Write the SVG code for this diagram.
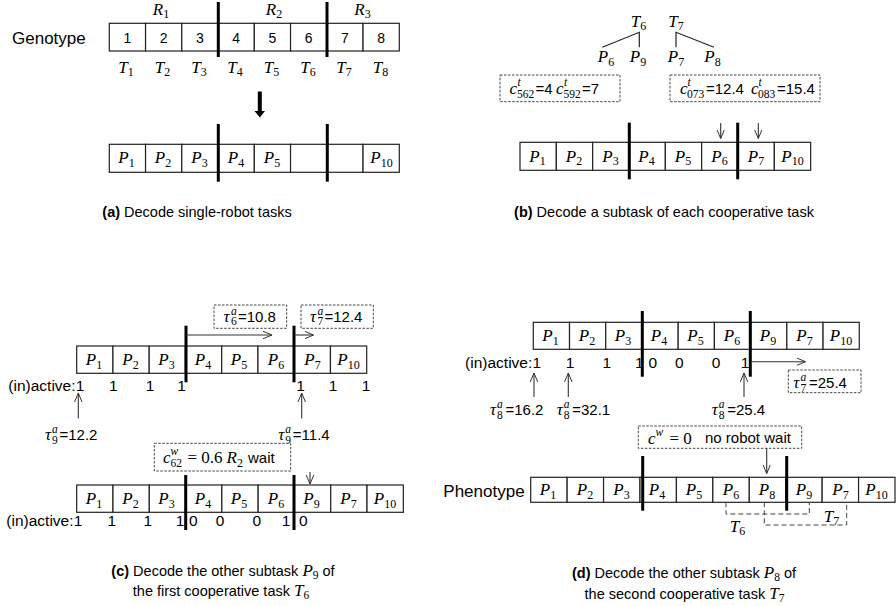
<svg xmlns="http://www.w3.org/2000/svg" width="896" height="606" viewBox="0 0 896 606">
<defs>
<style>
.cell{fill:#fff;stroke:#222;stroke-width:1.2}
.bar{stroke:#000;stroke-width:3}
.dash{fill:#fff;stroke:#444;stroke-width:1;stroke-dasharray:2.5 1.5}
.brk{fill:none;stroke:#444;stroke-width:1;stroke-dasharray:5 3}
.ln{stroke:#222;stroke-width:1.2;fill:none}
.ar{stroke:#333;stroke-width:1.1;fill:none;marker-end:url(#ah)}
.sf{font-family:"Liberation Sans",Arial,sans-serif;fill:#000}
.m{font-family:"Liberation Serif","Times New Roman",serif;font-style:italic;font-size:17px;fill:#000}
.mu{font-family:"Liberation Serif","Times New Roman",serif;font-size:17px;fill:#000}
.s{font-style:normal;font-size:12px}
.ss{font-family:"Liberation Serif","Times New Roman",serif;font-size:11.5px;fill:#000}
.si{font-family:"Liberation Serif","Times New Roman",serif;font-style:italic;font-size:11.5px;fill:#000}
.num{font-size:14px;text-anchor:middle}
.act{font-size:15.5px}
.val{font-size:15px}
.cap{font-size:14.5px;text-anchor:middle}
.c{text-anchor:middle}
</style>
<marker id="ah" viewBox="0 0 10 10" refX="10" refY="5" markerWidth="9" markerHeight="9" markerUnits="userSpaceOnUse" orient="auto">
<path d="M0,0.8 L10,5 L0,9.2" fill="none" stroke="#333" stroke-width="1.1"/>
</marker>
</defs>
<rect width="896" height="606" fill="#fff"/>

<!-- Panel (a) -->
<g id="genotype">
<text class="sf" x="12" y="44" font-size="17">Genotype</text>
<rect class="cell" x="109.3" y="23.3" width="36.25" height="27.7"/>
<rect class="cell" x="145.55" y="23.3" width="36.25" height="27.7"/>
<rect class="cell" x="181.8" y="23.3" width="36.25" height="27.7"/>
<rect class="cell" x="218.05" y="23.3" width="36.25" height="27.7"/>
<rect class="cell" x="254.3" y="23.3" width="36.25" height="27.7"/>
<rect class="cell" x="290.55" y="23.3" width="36.25" height="27.7"/>
<rect class="cell" x="326.8" y="23.3" width="36.25" height="27.7"/>
<rect class="cell" x="363.05" y="23.3" width="36.25" height="27.7"/>
<text class="sf num" x="127.4" y="42.5">1</text>
<text class="sf num" x="163.7" y="42.5">2</text>
<text class="sf num" x="199.9" y="42.5">3</text>
<text class="sf num" x="236.2" y="42.5">4</text>
<text class="sf num" x="272.4" y="42.5">5</text>
<text class="sf num" x="308.7" y="42.5">6</text>
<text class="sf num" x="344.9" y="42.5">7</text>
<text class="sf num" x="381.2" y="42.5">8</text>
<line class="bar" x1="218.3" y1="2" x2="218.3" y2="57"/>
<line class="bar" x1="327" y1="2" x2="327" y2="57"/>
<text class="m c" x="161" y="15">R<tspan class="s" dy="3">1</tspan></text>
<text class="m c" x="274" y="15">R<tspan class="s" dy="3">2</tspan></text>
<text class="m c" x="362.5" y="15">R<tspan class="s" dy="3">3</tspan></text>
<text class="m c" x="126" y="73">T<tspan class="s" dy="3">1</tspan></text>
<text class="m c" x="162.5" y="73">T<tspan class="s" dy="3">2</tspan></text>
<text class="m c" x="199" y="73">T<tspan class="s" dy="3">3</tspan></text>
<text class="m c" x="235" y="73">T<tspan class="s" dy="3">4</tspan></text>
<text class="m c" x="271.5" y="73">T<tspan class="s" dy="3">5</tspan></text>
<text class="m c" x="308" y="73">T<tspan class="s" dy="3">6</tspan></text>
<text class="m c" x="344" y="73">T<tspan class="s" dy="3">7</tspan></text>
<text class="m c" x="380.5" y="73">T<tspan class="s" dy="3">8</tspan></text>
</g>
<g id="arrow-a">
<polygon points="257.8,91.5 261.8,91.5 261.8,111 265,111 259.8,117.5 254.5,111 257.8,111" fill="#000"/>
</g>
<g id="row-a">
<rect class="cell" x="109.3" y="144.3" width="36.25" height="28"/>
<rect class="cell" x="145.55" y="144.3" width="36.25" height="28"/>
<rect class="cell" x="181.8" y="144.3" width="36.25" height="28"/>
<rect class="cell" x="218.05" y="144.3" width="36.25" height="28"/>
<rect class="cell" x="254.3" y="144.3" width="36.25" height="28"/>
<rect class="cell" x="290.55" y="144.3" width="36.25" height="28"/>
<rect class="cell" x="326.8" y="144.3" width="36.25" height="28"/>
<rect class="cell" x="363.05" y="144.3" width="36.25" height="28"/>
<text class="m c" x="126.5" y="163.3">P<tspan class="s" dy="3.5">1</tspan></text>
<text class="m c" x="163" y="163.3">P<tspan class="s" dy="3.5">2</tspan></text>
<text class="m c" x="199.5" y="163.3">P<tspan class="s" dy="3.5">3</tspan></text>
<text class="m c" x="236" y="163.3">P<tspan class="s" dy="3.5">4</tspan></text>
<text class="m c" x="272" y="163.3">P<tspan class="s" dy="3.5">5</tspan></text>
<text class="m c" x="381.5" y="163.3">P<tspan class="s" dy="3.5">10</tspan></text>
<line class="bar" x1="218.3" y1="124" x2="218.3" y2="181.7"/>
<line class="bar" x1="327.3" y1="124" x2="327.3" y2="181.7"/>
</g>
<text class="sf cap" x="197" y="217" font-size="15"><tspan font-weight="bold">(a)</tspan> Decode single-robot tasks</text>

<!-- Panel (b) -->
<g id="tree-b">
<text class="m c" x="638.5" y="27">T<tspan class="s" dy="3">6</tspan></text>
<text class="m c" x="676" y="27">T<tspan class="s" dy="3">7</tspan></text>
<path class="ln" d="M602.3,47.3 L639.3,32.3 L639.3,47.3"/>
<path class="ln" d="M676,47.3 L676,32.3 L714,47.3"/>
<text class="m c" x="606" y="62">P<tspan class="s" dy="3.5">6</tspan></text>
<text class="m c" x="638" y="62">P<tspan class="s" dy="3.5">9</tspan></text>
<text class="m c" x="676" y="62">P<tspan class="s" dy="3.5">7</tspan></text>
<text class="m c" x="712.5" y="62">P<tspan class="s" dy="3.5">8</tspan></text>
</g>
<g id="cost-b1">
<rect class="dash" x="500" y="75" width="120" height="26.7"/>
<text class="m" x="509.5" y="94">c</text>
<text class="si" x="517.5" y="86">t</text>
<text class="ss" x="517" y="98">562</text>
<text class="sf val" x="535.5" y="94">=4</text>
<text class="m" x="556" y="94">c</text>
<text class="si" x="564" y="86">t</text>
<text class="ss" x="563.5" y="98">592</text>
<text class="sf val" x="582" y="94">=7</text>
</g>
<g id="cost-b2">
<rect class="dash" x="670" y="75" width="150" height="26.7"/>
<text class="m" x="680" y="94">c</text>
<text class="si" x="687.5" y="86">t</text>
<text class="ss" x="687" y="98">073</text>
<text class="sf val" x="706" y="94">=12.4</text>
<text class="m" x="751" y="94">c</text>
<text class="si" x="758.5" y="86">t</text>
<text class="ss" x="758" y="98">083</text>
<text class="sf val" x="777" y="94">=15.4</text>
</g>
<g id="row-b">
<rect class="cell" x="520" y="142.3" width="36.33" height="28"/>
<rect class="cell" x="556.33" y="142.3" width="36.33" height="28"/>
<rect class="cell" x="592.66" y="142.3" width="36.33" height="28"/>
<rect class="cell" x="629" y="142.3" width="36.33" height="28"/>
<rect class="cell" x="665.33" y="142.3" width="36.33" height="28"/>
<rect class="cell" x="701.66" y="142.3" width="36.33" height="28"/>
<rect class="cell" x="738" y="142.3" width="36.33" height="28"/>
<rect class="cell" x="774.33" y="142.3" width="36.33" height="28"/>
<text class="m c" x="537.5" y="161.5">P<tspan class="s" dy="3.5">1</tspan></text>
<text class="m c" x="574" y="161.5">P<tspan class="s" dy="3.5">2</tspan></text>
<text class="m c" x="610.5" y="161.5">P<tspan class="s" dy="3.5">3</tspan></text>
<text class="m c" x="646.5" y="161.5">P<tspan class="s" dy="3.5">4</tspan></text>
<text class="m c" x="683" y="161.5">P<tspan class="s" dy="3.5">5</tspan></text>
<text class="m c" x="719.5" y="161.5">P<tspan class="s" dy="3.5">6</tspan></text>
<text class="m c" x="756" y="161.5">P<tspan class="s" dy="3.5">7</tspan></text>
<text class="m c" x="792.5" y="161.5">P<tspan class="s" dy="3.5">10</tspan></text>
<line class="bar" x1="629.3" y1="122.7" x2="629.3" y2="179.3"/>
<line class="bar" x1="737.7" y1="122.7" x2="737.7" y2="179.3"/>
</g>
<g id="connectors-b">
<line class="ar" x1="720.7" y1="123" x2="720.7" y2="138.5"/>
<line class="ar" x1="758.3" y1="123" x2="758.3" y2="138.5"/>
</g>
<text class="sf cap" x="664" y="217"><tspan font-weight="bold">(b)</tspan> Decode a subtask of each cooperative task</text>

<!-- Panel (c) -->
<g id="tau-c1">
<rect class="dash" x="214" y="305" width="72.7" height="23.3"/>
<text class="m" x="223.5" y="321.7" font-size="16">τ</text>
<text class="si" x="231" y="314.5">a</text>
<text class="ss" x="231" y="325">6</text>
<text class="sf val" x="238" y="321.7">=10.8</text>
</g>
<g id="tau-c2">
<rect class="dash" x="301" y="305" width="72.3" height="23.3"/>
<text class="m" x="310" y="321.7" font-size="16">τ</text>
<text class="si" x="317.5" y="314.5">a</text>
<text class="ss" x="317.5" y="325">7</text>
<text class="sf val" x="324.5" y="321.7">=12.4</text>
</g>
<g id="row-c1">
<rect class="cell" x="76.7" y="346" width="36.25" height="27.3"/>
<rect class="cell" x="112.95" y="346" width="36.25" height="27.3"/>
<rect class="cell" x="149.2" y="346" width="36.25" height="27.3"/>
<rect class="cell" x="185.45" y="346" width="36.25" height="27.3"/>
<rect class="cell" x="221.7" y="346" width="36.25" height="27.3"/>
<rect class="cell" x="257.95" y="346" width="36.25" height="27.3"/>
<rect class="cell" x="294.2" y="346" width="36.25" height="27.3"/>
<rect class="cell" x="330.45" y="346" width="36.25" height="27.3"/>
<text class="m c" x="94" y="365">P<tspan class="s" dy="3.5">1</tspan></text>
<text class="m c" x="130.5" y="365">P<tspan class="s" dy="3.5">2</tspan></text>
<text class="m c" x="166.5" y="365">P<tspan class="s" dy="3.5">3</tspan></text>
<text class="m c" x="203" y="365">P<tspan class="s" dy="3.5">4</tspan></text>
<text class="m c" x="239" y="365">P<tspan class="s" dy="3.5">5</tspan></text>
<text class="m c" x="276" y="365">P<tspan class="s" dy="3.5">6</tspan></text>
<text class="m c" x="312.5" y="365">P<tspan class="s" dy="3.5">7</tspan></text>
<text class="m c" x="348.5" y="365">P<tspan class="s" dy="3.5">10</tspan></text>
<line class="bar" x1="186" y1="325.7" x2="186" y2="382.3"/>
<line class="bar" x1="294" y1="325.7" x2="294" y2="382.3"/>
<text class="sf act" x="75.5" y="391.3" text-anchor="end">(in)active:</text>
<text class="sf act c" x="80" y="391.3">1</text>
<text class="sf act c" x="113.3" y="391.3">1</text>
<text class="sf act c" x="150" y="391.3">1</text>
<text class="sf act c" x="181.5" y="391.3">1</text>
<text class="sf act c" x="300.5" y="391.3">1</text>
<text class="sf act c" x="333" y="391.3">1</text>
<text class="sf act c" x="366" y="391.3">1</text>
</g>
<g id="tau-c3">
<text class="m" x="45" y="440" font-size="16">τ</text>
<text class="si" x="52" y="432.5">a</text>
<text class="ss" x="52" y="443.5">9</text>
<text class="sf val" x="59.5" y="440">=12.2</text>
</g>
<g id="tau-c4">
<text class="m" x="278.3" y="440" font-size="16">τ</text>
<text class="si" x="285.3" y="432.5">a</text>
<text class="ss" x="285.3" y="443.5">9</text>
<text class="sf val" x="292.8" y="440">=11.4</text>
</g>
<g id="wait-c">
<rect class="dash" x="154.3" y="443.3" width="136.4" height="27.7"/>
<text class="m" x="163" y="463">c</text>
<text class="si" x="170.5" y="455">w</text>
<text class="ss" x="170.5" y="467">62</text>
<text class="mu" x="187.5" y="463">= 0.6</text>
<text class="m" x="226.5" y="463">R<tspan class="s" dy="3.5">2</tspan></text>
<text class="sf val" x="248" y="463">wait</text>
</g>
<g id="row-c2">
<rect class="cell" x="76.7" y="485" width="36.29" height="27.3"/>
<rect class="cell" x="112.99" y="485" width="36.29" height="27.3"/>
<rect class="cell" x="149.28" y="485" width="36.29" height="27.3"/>
<rect class="cell" x="185.57" y="485" width="36.29" height="27.3"/>
<rect class="cell" x="221.86" y="485" width="36.29" height="27.3"/>
<rect class="cell" x="258.15" y="485" width="36.29" height="27.3"/>
<rect class="cell" x="294.44" y="485" width="36.29" height="27.3"/>
<rect class="cell" x="330.73" y="485" width="36.29" height="27.3"/>
<rect class="cell" x="367.02" y="485" width="36.29" height="27.3"/>
<text class="m c" x="94" y="504">P<tspan class="s" dy="3.5">1</tspan></text>
<text class="m c" x="130.5" y="504">P<tspan class="s" dy="3.5">2</tspan></text>
<text class="m c" x="166.5" y="504">P<tspan class="s" dy="3.5">3</tspan></text>
<text class="m c" x="203" y="504">P<tspan class="s" dy="3.5">4</tspan></text>
<text class="m c" x="239" y="504">P<tspan class="s" dy="3.5">5</tspan></text>
<text class="m c" x="276" y="504">P<tspan class="s" dy="3.5">6</tspan></text>
<text class="m c" x="311.5" y="504">P<tspan class="s" dy="3.5">9</tspan></text>
<text class="m c" x="348.5" y="504">P<tspan class="s" dy="3.5">7</tspan></text>
<text class="m c" x="385" y="504">P<tspan class="s" dy="3.5">10</tspan></text>
<line class="bar" x1="185.7" y1="475" x2="185.7" y2="530"/>
<line class="bar" x1="294" y1="475" x2="294" y2="530"/>
<text class="sf act" x="73.5" y="526" text-anchor="end">(in)active:</text>
<text class="sf act c" x="78" y="526">1</text>
<text class="sf act c" x="111.7" y="526">1</text>
<text class="sf act c" x="147.7" y="526">1</text>
<text class="sf act c" x="180" y="526">1</text>
<text class="sf act c" x="193.3" y="526">0</text>
<text class="sf act c" x="220" y="526">0</text>
<text class="sf act c" x="256.7" y="526">0</text>
<text class="sf act c" x="286" y="526">1</text>
<text class="sf act c" x="303.3" y="526">0</text>
</g>
<g id="connectors-c">
<line class="ar" x1="186" y1="335" x2="272" y2="335"/>
<line class="ar" x1="294" y1="335" x2="313.5" y2="335"/>
<line class="ar" x1="78.3" y1="418.5" x2="78.3" y2="393"/>
<line class="ar" x1="301.7" y1="418.5" x2="301.7" y2="393"/>
<line class="ar" x1="310" y1="472" x2="310" y2="484"/>
</g>
<text class="sf cap" x="223" y="576"><tspan font-weight="bold">(c)</tspan> Decode the other subtask <tspan class="m" font-size="16">P</tspan><tspan font-family="Liberation Serif" font-size="11.5" dy="3">9</tspan><tspan dy="-3"> of</tspan></text>
<text class="sf cap" x="221" y="596">the first cooperative task <tspan class="m" font-size="16">T</tspan><tspan font-family="Liberation Serif" font-size="11.5" dy="3">6</tspan></text>

<!-- Panel (d) -->
<g id="row-d1">
<rect class="cell" x="533.3" y="322.3" width="36.22" height="27"/>
<rect class="cell" x="569.52" y="322.3" width="36.22" height="27"/>
<rect class="cell" x="605.74" y="322.3" width="36.22" height="27"/>
<rect class="cell" x="641.96" y="322.3" width="36.22" height="27"/>
<rect class="cell" x="678.18" y="322.3" width="36.22" height="27"/>
<rect class="cell" x="714.4" y="322.3" width="36.22" height="27"/>
<rect class="cell" x="750.62" y="322.3" width="36.22" height="27"/>
<rect class="cell" x="786.84" y="322.3" width="36.22" height="27"/>
<rect class="cell" x="823.06" y="322.3" width="36.22" height="27"/>
<text class="m c" x="550.5" y="341">P<tspan class="s" dy="3.5">1</tspan></text>
<text class="m c" x="587" y="341">P<tspan class="s" dy="3.5">2</tspan></text>
<text class="m c" x="623" y="341">P<tspan class="s" dy="3.5">3</tspan></text>
<text class="m c" x="659" y="341">P<tspan class="s" dy="3.5">4</tspan></text>
<text class="m c" x="695.5" y="341">P<tspan class="s" dy="3.5">5</tspan></text>
<text class="m c" x="732" y="341">P<tspan class="s" dy="3.5">6</tspan></text>
<text class="m c" x="768" y="341">P<tspan class="s" dy="3.5">9</tspan></text>
<text class="m c" x="804.5" y="341">P<tspan class="s" dy="3.5">7</tspan></text>
<text class="m c" x="841" y="341">P<tspan class="s" dy="3.5">10</tspan></text>
<line class="bar" x1="642.3" y1="311" x2="642.3" y2="376.7"/>
<line class="bar" x1="750.3" y1="311" x2="750.3" y2="376.7"/>
<text class="sf act" x="532.3" y="368" text-anchor="end">(in)active:</text>
<text class="sf act c" x="536.7" y="368">1</text>
<text class="sf act c" x="570" y="368">1</text>
<text class="sf act c" x="606.7" y="368">1</text>
<text class="sf act c" x="639.3" y="368">1</text>
<text class="sf act c" x="652.7" y="368">0</text>
<text class="sf act c" x="679.3" y="368">0</text>
<text class="sf act c" x="716" y="368">0</text>
<text class="sf act c" x="745" y="368">1</text>
</g>
<g id="tau-d1">
<rect class="dash" x="788.3" y="370" width="72.7" height="22.7"/>
<text class="m" x="793.3" y="388" font-size="16">τ</text>
<text class="si" x="800.5" y="380.5">a</text>
<text class="ss" x="800.5" y="391.5">7</text>
<text class="sf val" x="809" y="388">=25.4</text>
</g>
<g id="tau-d2">
<text class="m" x="490" y="415" font-size="16">τ</text>
<text class="si" x="497" y="407.5">a</text>
<text class="ss" x="497" y="418.5">8</text>
<text class="sf val" x="505.5" y="415">=16.2</text>
</g>
<g id="tau-d3">
<text class="m" x="556.7" y="415" font-size="16">τ</text>
<text class="si" x="563.7" y="407.5">a</text>
<text class="ss" x="563.7" y="418.5">8</text>
<text class="sf val" x="572.2" y="415">=32.1</text>
</g>
<g id="tau-d4">
<text class="m" x="711.7" y="415" font-size="16">τ</text>
<text class="si" x="718.7" y="407.5">a</text>
<text class="ss" x="718.7" y="418.5">8</text>
<text class="sf val" x="727.2" y="415">=25.4</text>
</g>
<g id="wait-d">
<rect class="dash" x="638.3" y="426" width="163.4" height="22.3"/>
<text class="m" x="648" y="443.5">c</text>
<text class="si" x="655.5" y="435.5">w</text>
<text class="mu" x="669.5" y="443.5">= 0</text>
<text class="sf val" x="705" y="443">no robot wait</text>
</g>
<g id="phenotype">
<text class="sf" x="443.3" y="496.5" font-size="17">Phenotype</text>
<rect class="cell" x="530.7" y="477.3" width="36.43" height="25"/>
<rect class="cell" x="567.13" y="477.3" width="36.43" height="25"/>
<rect class="cell" x="603.56" y="477.3" width="36.43" height="25"/>
<rect class="cell" x="639.99" y="477.3" width="36.43" height="25"/>
<rect class="cell" x="676.42" y="477.3" width="36.43" height="25"/>
<rect class="cell" x="712.85" y="477.3" width="36.43" height="25"/>
<rect class="cell" x="749.28" y="477.3" width="36.43" height="25"/>
<rect class="cell" x="785.71" y="477.3" width="36.43" height="25"/>
<rect class="cell" x="822.14" y="477.3" width="36.43" height="25"/>
<rect class="cell" x="858.57" y="477.3" width="36.43" height="25"/>
<text class="m c" x="548" y="495">P<tspan class="s" dy="3.5">1</tspan></text>
<text class="m c" x="585" y="495">P<tspan class="s" dy="3.5">2</tspan></text>
<text class="m c" x="621.5" y="495">P<tspan class="s" dy="3.5">3</tspan></text>
<text class="m c" x="657" y="495">P<tspan class="s" dy="3.5">4</tspan></text>
<text class="m c" x="694" y="495">P<tspan class="s" dy="3.5">5</tspan></text>
<text class="m c" x="731" y="495">P<tspan class="s" dy="3.5">6</tspan></text>
<text class="m c" x="767" y="495">P<tspan class="s" dy="3.5">8</tspan></text>
<text class="m c" x="804" y="495">P<tspan class="s" dy="3.5">9</tspan></text>
<text class="m c" x="840.5" y="495">P<tspan class="s" dy="3.5">7</tspan></text>
<text class="m c" x="876.5" y="495">P<tspan class="s" dy="3.5">10</tspan></text>
<line class="bar" x1="642.7" y1="456" x2="642.7" y2="510.7"/>
<line class="bar" x1="786.7" y1="456" x2="786.7" y2="510.7"/>
</g>
<g id="brackets-d">
<path class="brk" d="M726,502.3 V514 H809.3 V502.3"/>
<path class="brk" d="M764.3,502.3 V525 H846.7 V502.3"/>
<text class="m c" x="737.5" y="531.5">T<tspan class="s" dy="3">6</tspan></text>
<text class="m c" x="831.5" y="521.5">T<tspan class="s" dy="3">7</tspan></text>
</g>
<g id="connectors-d">
<line class="ar" x1="751" y1="361.7" x2="805.5" y2="361.7"/>
<line class="ar" x1="534" y1="397" x2="534" y2="373"/>
<line class="ar" x1="568.3" y1="397" x2="568.3" y2="373"/>
<line class="ar" x1="744" y1="397" x2="744" y2="373"/>
<line class="ar" x1="766.7" y1="448.3" x2="766.7" y2="473.5"/>
</g>
<text class="sf cap" x="684" y="578"><tspan font-weight="bold">(d)</tspan> Decode the other subtask <tspan class="m" font-size="16">P</tspan><tspan font-family="Liberation Serif" font-size="11.5" dy="3">8</tspan><tspan dy="-3"> of</tspan></text>
<text class="sf cap" x="684.5" y="599">the second cooperative task <tspan class="m" font-size="16">T</tspan><tspan font-family="Liberation Serif" font-size="11.5" dy="3">7</tspan></text>
</svg>
